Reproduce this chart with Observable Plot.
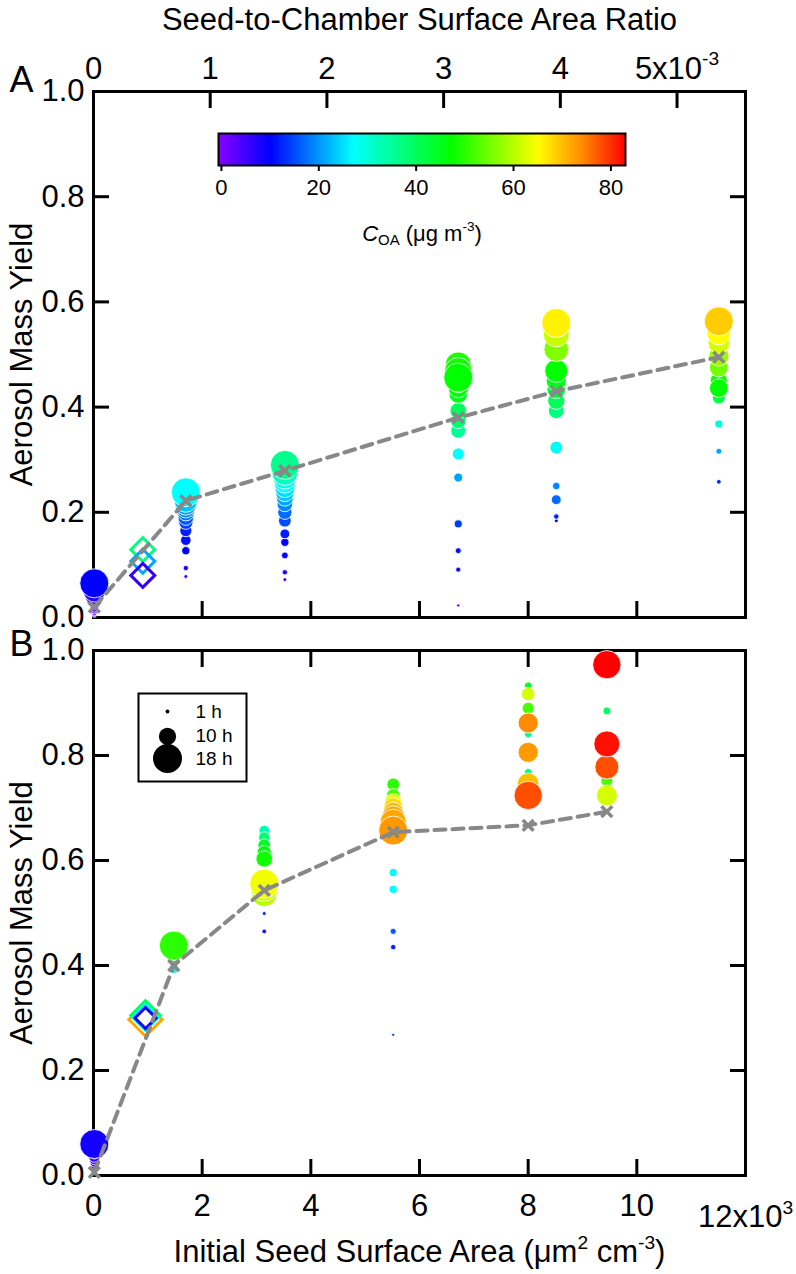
<!DOCTYPE html>
<html><head><meta charset="utf-8">
<script src="https://cdn.jsdelivr.net/npm/d3@7"></script>
<script src="https://cdn.jsdelivr.net/npm/@observablehq/plot@0.6"></script>
<style>
body{margin:0;background:#fff;}
#wrap{position:relative;width:796px;height:1274px;}
#wrap svg{position:absolute;overflow:visible;}
</style></head><body><div id="wrap"></div>
<script>
// ---------- tick values / labels ----------
const xTicks = [0, 2000, 4000, 6000, 8000, 10000];
const ratioTicks = [0, 1, 2, 3, 4, 5];            // x10^-3
const ratioLabels = ["0", "1", "2", "3", "4", "5x10^{-3}"];
const SA_PER_RATIO = 2148;                        // µm² cm⁻³ per 1e-3 of seed-to-chamber ratio
const yTicks = [0, 0.2, 0.4, 0.6, 0.8, 1.0];
const coaTicks = [0, 20, 40, 60, 80];
const legendHours = [1, 10, 18];

// colour table (C_OA, µg m-3)
const coaStops  = [0, 10, 27, 37, 47, 56, 65, 74, 83];
const coaColors = ["#8000ff","#0000ff","#00ffff","#00ff80","#00ff00","#80ff00","#ffff00","#ff8c00","#ff0000"];

// ---------- Panel A data: [yield, hours, C_OA] ----------
const SA_A = [15, 1699, 3522, 6713, 8517, 11509];
const expA0 = [[0.004,1,1],[0.008,2,2],[0.013,3,2],[0.018,4,3],[0.026,6,4],[0.034,9,5],[0.042,11,6],[0.050,13,7],[0.065,18,10]];
const expA1 = [[0.078,1,5],[0.094,2,7],[0.127,4,10],[0.147,5.5,11],[0.165,6.5,12],[0.181,8,14],[0.190,9,16],[0.200,10,18],[0.207,11,19],[0.215,13,21],[0.222,14,23],[0.238,18,27]];
const expA2 = [[0.072,1,5],[0.086,2,7],[0.118,3,9],[0.143,4,10],[0.159,5,12],[0.184,7,15],[0.200,8,17],[0.216,9,19],[0.228,10,21],[0.238,11,23],[0.247,12,25],[0.257,13,27],[0.266,14,29],[0.276,16,32],[0.290,18,36]];
const expA3 = [[0.023,0.5,4],[0.091,1.8,9],[0.127,2.4,11],[0.178,3.8,14],[0.266,4.5,21],[0.311,6.5,27],[0.355,8.5,35],[0.374,9,38],[0.393,9.6,40],[0.425,11,45],[0.437,12,46],[0.448,13,47],[0.470,15,49],[0.480,16,49],[0.468,17,48],[0.456,18,47]];
const expA4 = [[0.184,1,10],[0.192,2,12],[0.250,3.5,19],[0.224,5,17],[0.323,7,28],[0.393,9,37],[0.412,10,40],[0.434,11,43],[0.450,12,45],[0.469,14,47],[0.510,15,56],[0.539,16,61],[0.560,18,66]];
const expA5 = [[0.258,1.6,13],[0.316,2.4,21],[0.368,3.8,30],[0.418,7,42],[0.450,10,48],[0.475,11,55],[0.497,12,58],[0.522,13,62],[0.541,14.5,65],[0.436,11,47],[0.563,18,69]];
const SA_DIAM_A = 907;
const diamA = [[0.129,37],[0.107,21],[0.080,6]];
const lineA_y = [0.020, 0.222, 0.279, 0.380, 0.430, 0.495];

// ---------- Panel B data ----------
const SA_B = [15, 1478, 3142, 5516, 8000, 9448];
const expB0 = [[0.006,1,1],[0.012,2,2],[0.018,3,3],[0.024,4,4],[0.030,5,5],[0.036,6,6],[0.045,8,7],[0.060,18,8.5]];
const expB1 = [[0.394,5,27],[0.418,8,44],[0.426,10,46],[0.432,12,48],[0.438,18,50]];
const expB2 = [[0.465,1.5,11],[0.499,1,12],[0.657,5.5,33],[0.644,6,38],[0.629,7,44],[0.615,8,46],[0.603,9.6,48],[0.537,16,60],[0.548,17,62],[0.556,18,64]];
const expB3 = [[0.268,0.5,14],[0.435,2,12],[0.465,2.5,16],[0.545,4,27],[0.577,4,28],[0.745,7,50],[0.724,7.5,52],[0.711,10,63],[0.702,11,68],[0.692,12,70],[0.682,14,72],[0.673,16,72],[0.657,18,73]];
const expB4 = [[0.933,3.5,44],[0.841,3.5,37],[0.768,3.5,37],[0.890,6.5,52],[0.917,7.5,62],[0.862,12,74],[0.806,12,73],[0.746,13,70],[0.724,17.5,78]];
const expB5 = [[0.885,3.7,40],[0.752,6.5,52],[0.724,12.5,62],[0.778,14.6,78],[0.822,16,82],[0.973,17.5,83]];
const SA_DIAM_B = 957;
const diamB = [[0.297,72],[0.305,40],[0.302,28],[0.300,9]];
const lineB_y = [0.006, 0.400, 0.543, 0.654, 0.667, 0.693];

// ---------- styles ----------
const FONT = '"Liberation Sans", Arial, sans-serif';
const FS = 31;
const diamR_A = 10.8;
const diamR_B = [15, 13.2, 11.5, 9.5];
const colorOpt = {type: "linear", domain: coaStops, range: coaColors, interpolate: "rgb"};
const rOpt = {type: "linear", domain: [0, 18], range: [1.2, 14.5]};
const GRAY = "#888888";

const rowsFrom = (saList, exps) => exps.flatMap((pts, i) => pts.map(([y, h, c]) => ({sa: saList[i], y, h, c})));
const lineRows = (saList, ys) => saList.map((sa, i) => ({sa, y: ys[i]}));
const label = (s, o) => Plot.text([s], {text: d => d, textAnchor: "middle", lineAnchor: "middle", fontSize: FS, ...o});

function frameAxes(opts) {
  const common = {strokeWidth: 3, fontSize: FS, label: null};
  const marks = [
    Plot.frame({stroke: "black", strokeWidth: 3}),
    Plot.axisY({...common, anchor: "left", ticks: yTicks, tickSize: -16, tickPadding: 25, tickFormat: d3.format(".1f")}),
    Plot.axisY({...common, anchor: "right", ticks: yTicks, tickSize: -16, tickFormat: () => ""}),
  ];
  if (opts.topLabels) {
    const lbl = new Map(ratioTicks.map((r, i) => [r * SA_PER_RATIO, ratioLabels[i]]));
    marks.push(Plot.axisX({...common, anchor: "top", ticks: ratioTicks.map(r => r * SA_PER_RATIO), tickSize: -16, tickPadding: 29, tickFormat: d => lbl.get(d)}));
  } else {
    marks.push(Plot.axisX({...common, anchor: "top", ticks: xTicks, tickSize: -16, tickFormat: () => ""}));
  }
  if (opts.bottomLabels) {
    marks.push(Plot.axisX({...common, anchor: "bottom", ticks: xTicks, tickSize: -16, tickPadding: 34, tickFormat: d => String(d / 1000)}));
  } else {
    marks.push(Plot.axisX({...common, anchor: "bottom", ticks: xTicks, tickSize: -16, tickFormat: () => ""}));
  }
  return marks;
}

function panel(o) {
  return Plot.plot({
    width: 796, height: o.height, marginTop: o.mt, marginBottom: o.mb, marginLeft: 93, marginRight: 51,
    style: {fontFamily: FONT, background: "transparent", overflow: "visible", color: "black"},
    x: {domain: [0, 12000], label: null},
    y: {domain: [0, 1], label: null},
    color: colorOpt, r: rOpt,
    marks: [
      ...frameAxes(o),
      Plot.dot(o.rows, {x: "sa", y: "y", r: "h", fill: "c", stroke: "white", strokeWidth: 1, strokeOpacity: 0.85, sort: null}),
      ...o.diamonds,
      Plot.line(o.line, {x: "sa", y: "y", stroke: GRAY, strokeWidth: 4, strokeDasharray: "11,7"}),
      Plot.dot(o.line, {x: "sa", y: "y", symbol: "times", r: 5, stroke: GRAY, strokeWidth: 3.5}),
      ...o.texts
    ]
  });
}

const panelA = panel({
  height: 632, mt: 91, mb: 15, topLabels: true, bottomLabels: false,
  rows: rowsFrom(SA_A, [expA0, expA1, expA2, expA3, expA4, expA5]),
  diamonds: [Plot.dot(diamA, {x: () => SA_DIAM_A, y: d => d[0], stroke: d => d[1], symbol: "diamond2", r: diamR_A, strokeWidth: 3, fill: "none"})],
  line: lineRows(SA_A, lineA_y),
  texts: [
    label("A", {frameAnchor: "top-left", dx: -72, dy: -11, fontSize: 36}),
    label("Seed-to-Chamber Surface Area Ratio", {frameAnchor: "top", dy: -71}),
    label("Aerosol Mass Yield", {frameAnchor: "left", dx: -71, rotate: -90})
  ]
});

const panelB = panel({
  height: 642, mt: 18, mb: 99, topLabels: false, bottomLabels: true,
  rows: rowsFrom(SA_B, [expB0, expB1, expB2, expB3, expB4, expB5]),
  diamonds: diamB.map((d, i) => Plot.dot([d], {x: () => SA_DIAM_B, y: d => d[0], stroke: d => d[1], symbol: "diamond2", r: diamR_B[i], strokeWidth: 3, fill: "none"})),
  line: lineRows(SA_B, lineB_y),
  texts: [
    label("B", {frameAnchor: "top-left", dx: -72, dy: -6, fontSize: 36}),
    label("Aerosol Mass Yield", {frameAnchor: "left", dx: -71, rotate: -90}),
    Plot.text([12000], {x: d => d, text: () => "12x10^{3}", frameAnchor: "bottom", textAnchor: "middle", lineAnchor: "middle", dy: 42, fontSize: FS}),
    label("Initial Seed Surface Area (μm^{2} cm^{-3})", {frameAnchor: "bottom", dy: 77})
  ]
});

const colorbar = Plot.plot({
  width: 437, height: 124, marginLeft: 10, marginRight: 20, marginTop: 2, marginBottom: 90,
  style: {fontFamily: FONT, background: "transparent", overflow: "visible", color: "black"},
  x: {domain: [-0.6, 83], label: null},
  y: {domain: [0, 1], axis: null, label: null},
  color: colorOpt,
  marks: [
    Plot.raster({x1: -0.6, x2: 83, y1: 0, y2: 1, fill: (x, y) => x, width: 407, height: 1}),
    Plot.frame({stroke: "black", strokeWidth: 2}),
    Plot.axisX({ticks: coaTicks, tickSize: 6, tickPadding: 8, strokeWidth: 2, fontSize: 22, label: null}),
    label("*C*_{OA} (μg m^{-3})", {frameAnchor: "bottom", dy: 68, fontSize: 22})
  ]
});

const legend = Plot.plot({
  width: 108, height: 88, marginLeft: 0, marginRight: 0, marginTop: 0, marginBottom: 0,
  style: {fontFamily: FONT, background: "transparent", overflow: "visible", color: "black"},
  y: {domain: [1, 18], range: [18, 65], axis: null, label: null},
  r: rOpt,
  marks: [
    Plot.frame({stroke: "black", strokeWidth: 2}),
    Plot.dot(legendHours, {y: d => d, r: d => d, fill: "black", frameAnchor: "left", dx: 29}),
    Plot.text(legendHours, {y: d => d, text: d => `${d} h`, frameAnchor: "left", dx: 57, textAnchor: "start", lineAnchor: "middle", fontSize: 19})
  ]
});

const wrap = document.getElementById("wrap");
function place(el, left, top) { el.style.left = left + "px"; el.style.top = top + "px"; wrap.appendChild(el); }
place(panelA, 0, 0);
place(panelB, 0, 632);
place(colorbar, 208, 131);
place(legend, 138, 693);

// rich text: ^{sup}, _{sub}, *italic*
function rich(root) {
  root.querySelectorAll("text").forEach(t => {
    if (t.querySelector("tspan")) return;
    const s = t.textContent;
    if (!/\^\{|_\{|\*/.test(s)) return;
    const fs = parseFloat(getComputedStyle(t).fontSize) || 16;
    t.textContent = "";
    let shift = 0;
    s.split(/(\^\{[^}]*\}|_\{[^}]*\}|\*[^*]+\*)/g).forEach(part => {
      if (!part) return;
      const ts = document.createElementNS("http://www.w3.org/2000/svg", "tspan");
      let dy = 0, txt = part, size = null;
      if (part.startsWith("^{")) { txt = part.slice(2, -1); size = 0.62 * fs; dy = -0.42 * fs; }
      else if (part.startsWith("_{")) { txt = part.slice(2, -1); size = 0.68 * fs; dy = 0.22 * fs; }
      else if (part.startsWith("*")) { txt = part.slice(1, -1); ts.setAttribute("font-style", "italic"); }
      if (dy - shift) ts.setAttribute("dy", dy - shift);
      shift = dy;
      if (size) ts.setAttribute("font-size", size);
      ts.textContent = txt;
      t.appendChild(ts);
    });
  });
}
rich(wrap);
</script></body></html>
